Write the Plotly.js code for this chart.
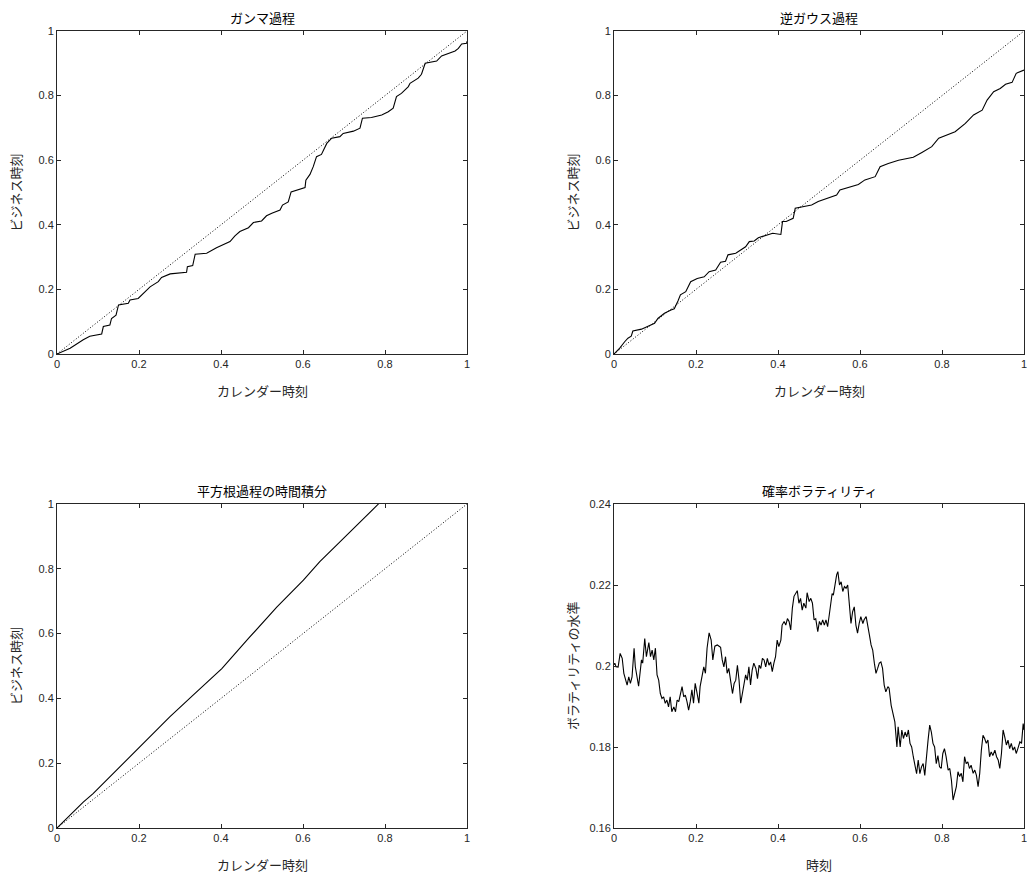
<!DOCTYPE html>
<html><head><meta charset="utf-8">
<script src="https://cdn.plot.ly/plotly-3.0.1.min.js"></script>
<style>html,body{margin:0;padding:0;background:#fff}#c{width:1027px;height:875px}</style>
</head><body><div id="c"></div>
<script>
// ガンマ過程
const gammaT = [0,0.032,0.064,0.08,0.109,0.113,0.129,0.133,0.144,0.15,0.174,0.178,0.198,0.219,0.227,0.247,0.255,0.276,0.30,0.316,0.318,0.331,0.337,0.365,0.389,0.422,0.434,0.446,0.467,0.479,0.499,0.511,0.524,0.544,0.55,0.564,0.571,0.589,0.605,0.607,0.617,0.625,0.633,0.645,0.658,0.67,0.69,0.698,0.723,0.739,0.745,0.767,0.792,0.808,0.82,0.828,0.84,0.857,0.861,0.881,0.889,0.898,0.926,0.938,0.971,0.979,0.987,0.999,1.0];
const gammaV = [0,0.018,0.044,0.055,0.062,0.085,0.09,0.11,0.12,0.152,0.157,0.167,0.172,0.198,0.208,0.224,0.237,0.248,0.252,0.253,0.27,0.274,0.309,0.312,0.329,0.348,0.366,0.379,0.391,0.407,0.412,0.428,0.436,0.446,0.461,0.471,0.502,0.51,0.515,0.538,0.556,0.58,0.611,0.618,0.652,0.668,0.673,0.683,0.69,0.699,0.73,0.732,0.74,0.75,0.761,0.797,0.807,0.828,0.838,0.854,0.866,0.9,0.907,0.923,0.938,0.946,0.96,0.962,0.968];
// 逆ガウス過程
const igT = [0,0.014,0.026,0.034,0.042,0.046,0.067,0.083,0.099,0.107,0.123,0.139,0.147,0.156,0.162,0.175,0.187,0.203,0.22,0.232,0.248,0.26,0.272,0.278,0.297,0.309,0.321,0.33,0.342,0.352,0.367,0.387,0.407,0.411,0.42,0.437,0.442,0.464,0.482,0.498,0.523,0.543,0.551,0.572,0.596,0.612,0.637,0.649,0.669,0.694,0.73,0.751,0.775,0.792,0.808,0.832,0.857,0.877,0.898,0.91,0.926,0.942,0.955,0.971,0.981,1.0];
const igV = [0,0.018,0.038,0.049,0.055,0.071,0.077,0.087,0.095,0.11,0.126,0.136,0.14,0.164,0.183,0.193,0.224,0.234,0.239,0.255,0.26,0.284,0.287,0.307,0.312,0.322,0.332,0.348,0.35,0.36,0.366,0.374,0.37,0.41,0.41,0.42,0.451,0.456,0.461,0.472,0.484,0.492,0.508,0.515,0.525,0.539,0.549,0.58,0.59,0.6,0.609,0.624,0.642,0.668,0.676,0.688,0.714,0.74,0.755,0.786,0.812,0.822,0.835,0.841,0.869,0.879];
// 平方根過程の時間積分
const sqT = [0,0.064,0.088,0.146,0.202,0.275,0.332,0.402,0.467,0.503,0.536,0.601,0.641,0.682,0.731,0.784,0.80];
const sqV = [0,0.08,0.106,0.179,0.25,0.343,0.41,0.492,0.585,0.636,0.682,0.765,0.822,0.873,0.935,1.0,1.025];
// 確率ボラティリティ
const svT = [0,0.002,0.005,0.010,0.015,0.020,0.024,0.029,0.032,0.036,0.040,0.044,0.049,0.052,0.060,0.067,0.070,0.075,0.079,0.085,0.089,0.093,0.097,0.101,0.105,0.109,0.113,0.117,0.121,0.125,0.129,0.133,0.137,0.141,0.146,0.150,0.154,0.158,0.162,0.166,0.170,0.174,0.178,0.182,0.186,0.190,0.194,0.198,0.202,0.207,0.210,0.215,0.219,0.223,0.227,0.232,0.237,0.241,0.246,0.252,0.260,0.264,0.268,0.272,0.276,0.280,0.285,0.289,0.293,0.297,0.301,0.305,0.309,0.313,0.317,0.321,0.325,0.329,0.333,0.337,0.341,0.346,0.350,0.354,0.358,0.362,0.366,0.370,0.374,0.378,0.382,0.386,0.390,0.394,0.398,0.402,0.407,0.410,0.415,0.419,0.423,0.427,0.431,0.435,0.439,0.443,0.447,0.451,0.455,0.459,0.463,0.468,0.471,0.476,0.480,0.484,0.488,0.492,0.497,0.501,0.505,0.509,0.513,0.517,0.521,0.525,0.529,0.532,0.535,0.539,0.543,0.546,0.550,0.554,0.558,0.562,0.566,0.570,0.574,0.578,0.582,0.586,0.590,0.594,0.598,0.602,0.607,0.610,0.615,0.619,0.623,0.627,0.631,0.635,0.639,0.643,0.647,0.651,0.655,0.659,0.663,0.668,0.671,0.676,0.680,0.685,0.690,0.693,0.698,0.702,0.706,0.710,0.714,0.718,0.722,0.726,0.730,0.734,0.738,0.742,0.746,0.750,0.754,0.758,0.762,0.766,0.770,0.774,0.778,0.782,0.786,0.790,0.794,0.798,0.802,0.806,0.810,0.815,0.819,0.823,0.827,0.831,0.835,0.839,0.843,0.847,0.851,0.855,0.859,0.863,0.867,0.871,0.876,0.880,0.884,0.888,0.892,0.896,0.900,0.904,0.908,0.912,0.916,0.920,0.924,0.929,0.933,0.937,0.941,0.945,0.949,0.953,0.957,0.961,0.965,0.969,0.973,0.977,0.981,0.985,0.990,0.994,0.998,1.000];
const svV = [0.2003,0.2007,0.1998,0.1997,0.2031,0.2019,0.1982,0.1965,0.1953,0.1973,0.1957,0.1973,0.2044,0.1998,0.195,0.2015,0.2007,0.2068,0.2023,0.2058,0.2023,0.2039,0.2015,0.2044,0.1978,0.1965,0.1932,0.192,0.1924,0.1908,0.1916,0.1899,0.1924,0.1887,0.1899,0.1887,0.1916,0.1912,0.1928,0.1949,0.1924,0.1928,0.1912,0.1891,0.1912,0.1941,0.1908,0.1957,0.1936,0.1908,0.1949,0.1978,0.1998,0.1982,0.2044,0.2082,0.2064,0.2015,0.2049,0.2052,0.2046,0.2015,0.1998,0.2023,0.1982,0.1994,0.1957,0.1932,0.1957,0.1965,0.2002,0.1965,0.1908,0.1932,0.1957,0.1978,0.1965,0.1998,0.1953,0.199,0.2007,0.1994,0.1969,0.2002,0.1994,0.2019,0.2015,0.1998,0.2019,0.2002,0.201,0.1986,0.2007,0.2023,0.2064,0.2048,0.2064,0.2101,0.211,0.2101,0.2117,0.211,0.2089,0.2143,0.2172,0.2181,0.2186,0.2155,0.2167,0.2138,0.2155,0.2143,0.2181,0.2159,0.2167,0.2155,0.2114,0.2117,0.2085,0.211,0.2101,0.2114,0.2101,0.2114,0.2097,0.2126,0.2155,0.2179,0.2175,0.2204,0.2225,0.2233,0.22,0.2208,0.2184,0.2196,0.2192,0.22,0.2159,0.2105,0.2134,0.2146,0.2101,0.2081,0.2105,0.2122,0.2105,0.2114,0.2122,0.2093,0.2076,0.2052,0.2039,0.2007,0.1982,0.1994,0.2007,0.201,0.1994,0.1953,0.1936,0.1949,0.1945,0.1903,0.1883,0.1862,0.18,0.185,0.18,0.1842,0.1821,0.1837,0.1825,0.1842,0.1809,0.18,0.1776,0.1759,0.1734,0.1768,0.1734,0.1751,0.1759,0.173,0.1784,0.1817,0.1854,0.1837,0.1809,0.18,0.1759,0.1779,0.1751,0.1747,0.1784,0.1796,0.1776,0.1743,0.1747,0.1718,0.1669,0.169,0.1702,0.1739,0.1727,0.1735,0.1714,0.1776,0.1759,0.1763,0.1747,0.1755,0.1735,0.1743,0.173,0.1702,0.1735,0.1792,0.1829,0.1821,0.1809,0.1817,0.1776,0.1788,0.1779,0.1792,0.1776,0.1768,0.1747,0.1784,0.1842,0.1825,0.1805,0.1817,0.1796,0.1809,0.1792,0.18,0.1784,0.1796,0.1813,0.1809,0.1858,0.1842];
const diagX = [0,1];
const diagY = [0,1];
const unitTicks = [0,0.2,0.4,0.6,0.8,1];
const volTicks = [0.16,0.18,0.2,0.22,0.24];

const titles = ['ガンマ過程','逆ガウス過程','平方根過程の時間積分','確率ボラティリティ'];
const xLabels = ['カレンダー時刻','カレンダー時刻','カレンダー時刻','時刻'];
const yLabels = ['ビジネス時刻','ビジネス時刻','ビジネス時刻','ボラティリティの水準'];

const W = 1027, H = 875;
const JP = '"Noto Sans CJK JP", "Noto Sans", sans-serif';
const lineBlack = {color:'#000', width:1.1};
const dotLine = {color:'#000', width:1, dash:'1px,2px'};

const traces = [
  {x:gammaT, y:gammaV, xaxis:'x', yaxis:'y', mode:'lines', line:lineBlack},
  {x:diagX, y:diagY, xaxis:'x', yaxis:'y', mode:'lines', line:dotLine},
  {x:igT, y:igV, xaxis:'x2', yaxis:'y2', mode:'lines', line:lineBlack},
  {x:diagX, y:diagY, xaxis:'x2', yaxis:'y2', mode:'lines', line:dotLine},
  {x:sqT, y:sqV, xaxis:'x3', yaxis:'y3', mode:'lines', line:lineBlack},
  {x:diagX, y:diagY, xaxis:'x3', yaxis:'y3', mode:'lines', line:dotLine},
  {x:svT, y:svV, xaxis:'x4', yaxis:'y4', mode:'lines', line:{color:'#000', width:1.1}}
];

// pixel boxes of the four axes [left, right, top, bottom]
const boxes = [[57,467,31,354],[614,1024,31,354],[57,467,504,828],[614,1024,504,828]];

function ax(domain, anchor, range, ticks){
  return {domain:domain, anchor:anchor, range:range, tickvals:ticks, ticks:'inside', ticklen:4,
    tickwidth:1, tickcolor:'#262626', showline:true, linecolor:'#262626', linewidth:1,
    mirror:'ticks', showgrid:false, zeroline:false, fixedrange:true, ticklabeloverflow:'allow',
    tickfont:{family:'"Liberation Sans", Arial, sans-serif', size:11, color:'#262626'}};
}

const layout = {width:W, height:H, margin:{l:0,r:0,t:0,b:0}, showlegend:false,
  paper_bgcolor:'#fff', plot_bgcolor:'#fff', annotations:[]};
const names = [['xaxis','yaxis','x','y'],['xaxis2','yaxis2','x2','y2'],['xaxis3','yaxis3','x3','y3'],['xaxis4','yaxis4','x4','y4']];
boxes.forEach((b,i)=>{
  const xd=[b[0]/W, b[1]/W], yd=[1-b[3]/H, 1-b[2]/H];
  const yr = i===3 ? [0.16,0.24] : [0,1];
  const yt = i===3 ? volTicks : unitTicks;
  layout[names[i][0]] = ax(xd, names[i][3], [0,1], unitTicks);
  layout[names[i][1]] = ax(yd, names[i][2], yr, yt);
  const cx = (b[0]+b[1])/2/W;
  layout.annotations.push({text:titles[i], x:cx, y:1-(b[2]-14)/H, xref:'paper', yref:'paper',
    showarrow:false, xanchor:'center', yanchor:'middle', font:{family:JP, size:13, color:'#000'}});
  layout.annotations.push({text:xLabels[i], x:cx, y:1-(b[3]+36)/H, xref:'paper', yref:'paper',
    showarrow:false, xanchor:'center', yanchor:'middle', font:{family:JP, size:13, color:'#262626'}});
  layout.annotations.push({text:yLabels[i], x:(b[0]-42)/W, y:1-(b[2]+b[3])/2/H, xref:'paper', yref:'paper',
    showarrow:false, textangle:-90, xanchor:'center', yanchor:'middle', font:{family:JP, size:13, color:'#262626'}});
});

Plotly.newPlot('c', traces, layout, {staticPlot:true, displayModeBar:false});
</script></body></html>
